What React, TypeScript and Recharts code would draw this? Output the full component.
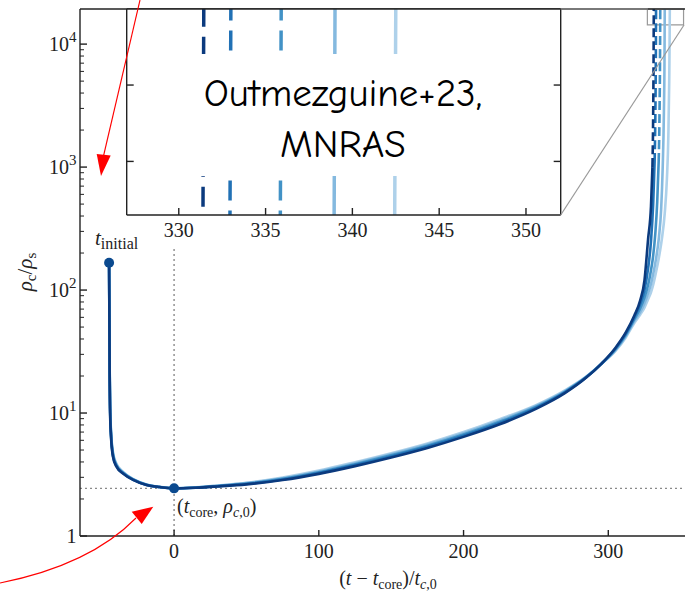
import React from 'react';
import { LineChart, Line, XAxis, YAxis, ReferenceLine, ReferenceDot, ReferenceArea } from 'recharts';

// time since core formation, in units of t_c,0 (shared by all runs up to t = 312)
const tShared = [
  -44.9, -44.7, -44.5, -44.2, -43.6, -42.2, -40, -35, -28, -19, -10, 0,
  15, 30, 50, 75, 100, 125, 150, 175, 200, 225, 250, 270, 285, 295, 305, 312,
];

// central density rho_c / rho_s for each run on tShared
const run1Rho = [167, 60, 20, 10, 6.5, 4.4, 3.7, 3.2, 2.85, 2.6, 2.5, 2.44,
  2.47, 2.53, 2.63, 2.85, 3.2, 3.7, 4.35, 5.2, 6.4, 8.1, 10.8, 14.5, 19.5, 25, 34, 45];
const run2Rho = [167, 62, 21, 10.5, 6.7, 4.5, 3.75, 3.22, 2.86, 2.6, 2.5, 2.44,
  2.47, 2.54, 2.65, 2.88, 3.25, 3.77, 4.44, 5.32, 6.55, 8.3, 11.0, 14.7, 19.6, 25, 33.5, 44];
const run3Rho = [167, 64, 22, 11, 6.9, 4.6, 3.8, 3.25, 2.87, 2.61, 2.5, 2.44,
  2.48, 2.55, 2.67, 2.92, 3.3, 3.84, 4.53, 5.43, 6.7, 8.5, 11.2, 14.9, 19.7, 25, 33, 43];
const run4Rho = [167, 66, 23, 11.5, 7.1, 4.7, 3.85, 3.27, 2.88, 2.61, 2.5, 2.44,
  2.48, 2.56, 2.69, 2.95, 3.35, 3.91, 4.62, 5.55, 6.85, 8.7, 11.4, 15.1, 19.8, 25, 32.5, 42];
const run5Rho = [167, 68, 24, 12, 7.3, 4.8, 3.9, 3.3, 2.89, 2.62, 2.51, 2.44,
  2.49, 2.57, 2.71, 2.99, 3.4, 3.98, 4.71, 5.66, 7.0, 8.9, 11.6, 15.3, 19.9, 25, 32, 41];

// late-time collapse of each run: [t, rho]
const run1Tail: [number, number][] = [[318, 62], [322, 82], [325, 120], [327.5, 260], [329.5, 480],
  [330.5, 1000], [331, 2600], [331.3, 8000], [331.44, 19300]];
const run2Tail: [number, number][] = [[318, 60], [322, 77], [325, 100], [327.5, 150], [329.5, 250],
  [331, 500], [332, 1100], [332.5, 2600], [332.85, 8000], [333.0, 19300]];
const run3Tail: [number, number][] = [[318, 58], [322, 71], [325, 87], [327.5, 110], [329.5, 145],
  [331, 190], [332.5, 290], [333.8, 520], [334.8, 1100], [335.4, 2800], [335.75, 8000], [335.9, 19300]];
const run4Tail: [number, number][] = [[318, 56], [322, 66], [325, 78], [327.5, 94], [329.5, 112],
  [331, 135], [333, 180], [335, 270], [336.5, 450], [337.6, 1000], [338.4, 2700], [338.85, 8000], [339.0, 19300]];
const run5Tail: [number, number][] = [[318, 54], [322, 63], [325, 72], [327.5, 84], [329.5, 96],
  [331, 110], [333, 140], [335, 185], [337, 260], [339, 420], [340.5, 800], [341.5, 1800],
  [342.1, 5000], [342.4, 12000], [342.5, 19300]];

const runColors = ['#0b3a7e', '#2171b5', '#4292c6', '#84b9df', '#aed1ea'];
const runDashed = [true, true, true, false, false];

const xTicks = [0, 100, 200, 300];
const yMajor = [1, 10, 100, 1000, 10000];
const yMinorMult = [2, 3, 4, 5, 6, 7, 8, 9];
const X_DOMAIN: [number, number] = [-65, 353];
const Y_DOMAIN: [number, number] = [1, 19300];

const insetXTicks = [330, 335, 340, 345, 350];
const insetYTicks = [15500, 17300];
const INSET_X: [number, number] = [327, 352];
const INSET_Y: [number, number] = [14350, 19300];

const DASH_FROM = 1000;
const FONT = "'Liberation Serif', 'Times New Roman', serif";
const INK = '#222';

type Pt = { t: number; rho: number };

function makeRun(rho: number[], tail: [number, number][]): Pt[] {
  const pts = tShared.map((t, i) => ({ t, rho: rho[i] }));
  tail.forEach(([t, r]) => pts.push({ t, rho: r }));
  return pts;
}

// solid part, and the dashed extrapolation above DASH_FROM
function split(pts: Pt[], dashed: boolean): [Pt[], Pt[]] {
  if (!dashed) return [pts, []];
  const k = pts.findIndex((p) => p.rho >= DASH_FROM);
  return [pts.slice(0, k + 1), pts.slice(k)];
}

const runs = [
  makeRun(run1Rho, run1Tail),
  makeRun(run2Rho, run2Tail),
  makeRun(run3Rho, run3Tail),
  makeRun(run4Rho, run4Tail),
  makeRun(run5Rho, run5Tail),
].map((pts, i) => {
  const [solid, dash] = split(pts, runDashed[i]);
  return { solid, dash, color: runColors[i], idx: i };
});

const yTicks = yMajor
  .flatMap((m) => [m, ...yMinorMult.map((k) => k * m)])
  .filter((v) => v <= Y_DOMAIN[1]);

const iCore = tShared.indexOf(0);
const tInit = tShared[0];
const rhoInit = run1Rho[0];
const rhoCore = run1Rho[iCore];

const YTick = (props: any) => {
  const { x, y, payload } = props;
  const v = payload.value;
  const e = Math.round(Math.log10(v));
  const major = Math.abs(v - Math.pow(10, e)) < 1e-6 * v;
  return (
    <g>
      <line x1={x} x2={x + (major ? 7 : 4)} y1={y} y2={y} stroke={INK} strokeWidth={major ? 1.4 : 1} />
      {major && (
        <text x={x - 3.5} y={y + 7} textAnchor="end" fontFamily={FONT} fontSize={20} fill={INK}>
          {e === 0 ? '1' : (
            <>
              10<tspan dy={-9} fontSize={15}>{e}</tspan>
            </>
          )}
        </text>
      )}
    </g>
  );
};

const XTick = (props: any) => {
  const { x, y, payload } = props;
  return (
    <g>
      <line x1={x} x2={x} y1={y} y2={y - 6} stroke={INK} strokeWidth={1.4} />
      <text x={x} y={y + 22} textAnchor="middle" fontFamily={FONT} fontSize={20} fill={INK}>
        {payload.value}
      </text>
    </g>
  );
};

const InsetXTick = (props: any) => {
  const { x, y, payload } = props;
  return (
    <g>
      <line x1={x} x2={x} y1={y} y2={y - 7} stroke={INK} strokeWidth={1.4} />
      <text x={x} y={y + 21.5} textAnchor="middle" fontFamily={FONT} fontSize={20} fill={INK}>
        {payload.value}
      </text>
    </g>
  );
};

const InsetLTick = (props: any) => (
  <line x1={props.x} x2={props.x + 7} y1={props.y} y2={props.y} stroke={INK} strokeWidth={1.4} />
);
const InsetRTick = (props: any) => (
  <line x1={props.x} x2={props.x - 7} y1={props.y} y2={props.y} stroke={INK} strokeWidth={1.4} />
);

const axisLine = { stroke: INK, strokeWidth: 1.4 };
const drawOrder = [...runs].reverse();

export default function App() {
  return (
    <div style={{ position: 'absolute', left: 0, top: 0, width: 685, height: 595, background: '#fff', overflow: 'hidden' }}>
      {/* main panel */}
      <div style={{ position: 'absolute', left: 0, top: 0 }}>
        <LineChart width={685} height={595} margin={{ top: 8, right: 0, bottom: 0, left: 0 }}>
          <XAxis dataKey="t" type="number" domain={X_DOMAIN} allowDataOverflow ticks={xTicks} interval={0}
            height={59} tickSize={0} tickMargin={0} tick={XTick} axisLine={axisLine} />
          <XAxis xAxisId="top" orientation="top" type="number" domain={X_DOMAIN} height={1}
            tick={false} tickLine={false} axisLine={axisLine} />
          <YAxis dataKey="rho" type="number" scale="log" domain={Y_DOMAIN} allowDataOverflow ticks={yTicks}
            interval={0} width={80} tickSize={0} tickMargin={0} tick={YTick} axisLine={axisLine} />
          <ReferenceLine y={rhoCore} stroke="#8a8a8a" strokeWidth={1.4} strokeDasharray="2 3" />
          <ReferenceLine segment={[{ x: 0, y: 1 }, { x: 0, y: 220 }]} stroke="#8a8a8a" strokeWidth={1.4} strokeDasharray="2 3" />
          <ReferenceArea x1={INSET_X[0]} x2={INSET_X[1]} y1={INSET_Y[0]} y2={INSET_Y[1]}
            fill="none" stroke="#999" strokeWidth={1.2} ifOverflow="visible" />
          {drawOrder.map((r) => (
            <Line key={`s${r.idx}`} data={r.solid} dataKey="rho" type="monotone" stroke={r.color}
              strokeWidth={2.6} dot={false} isAnimationActive={false} />
          ))}
          {drawOrder.filter((r) => r.dash.length > 0).map((r) => (
            <Line key={`d${r.idx}`} data={r.dash} dataKey="rho" type="monotone" stroke={r.color}
              strokeWidth={2.6} strokeDasharray="9 4" dot={false} isAnimationActive={false} />
          ))}
          <ReferenceDot x={tInit} y={rhoInit} r={5} fill="#0b4a8f" stroke="none" />
          <ReferenceDot x={0} y={rhoCore} r={5} fill="#0b4a8f" stroke="none" />
        </LineChart>
      </div>

      {/* zoom inset on the collapse times */}
      <div style={{ position: 'absolute', left: 126.7, top: 9, width: 434, height: 206, background: '#fff' }} />
      <div style={{ position: 'absolute', left: 120, top: 0 }}>
        <LineChart width={450} height={245} margin={{ top: 8, right: 8.3, bottom: 0, left: 5.7 }}>
          <XAxis dataKey="t" type="number" domain={INSET_X} allowDataOverflow ticks={insetXTicks} interval={0}
            height={30} tickSize={0} tickMargin={0} tick={InsetXTick} axisLine={axisLine} />
          <XAxis xAxisId="top" orientation="top" type="number" domain={INSET_X} height={1}
            tick={false} tickLine={false} axisLine={axisLine} />
          <YAxis yAxisId="l" dataKey="rho" type="number" scale="log" domain={INSET_Y} allowDataOverflow
            ticks={insetYTicks} interval={0} width={1} tickSize={0} tickMargin={0} tick={InsetLTick} axisLine={axisLine} />
          <YAxis yAxisId="r" orientation="right" type="number" scale="log" domain={INSET_Y} allowDataOverflow
            ticks={insetYTicks} interval={0} width={1} tickSize={0} tickMargin={0} tick={InsetRTick} axisLine={axisLine} />
          {drawOrder.map((r) => (
            <Line key={`is${r.idx}`} yAxisId="l" data={r.dash.length ? r.dash : r.solid} dataKey="rho" type="linear"
              stroke={r.color} strokeWidth={3.5} strokeDasharray={r.dash.length ? '20 10' : undefined}
              dot={false} isAnimationActive={false} />
          ))}
        </LineChart>
      </div>

      {/* labels, annotations */}
      <svg width={685} height={595} style={{ position: 'absolute', left: 0, top: 0, pointerEvents: 'none' }}>
        <line x1={560.7} y1={9} x2={648} y2={9} stroke="#999" strokeWidth={1.2} />
        <line x1={560.7} y1={215} x2={684} y2={25} stroke="#999" strokeWidth={1.2} />

        <rect x={134} y={54} width={419} height={122} fill="#fff" />
        <g fontFamily="'Comic Sans MS', 'Comic Neue', 'Open Sans', sans-serif" fontSize={39} fill="#000" textAnchor="middle">
          <text x={343} y={106}>Outmezguine+23,</text>
          <text x={343} y={157}>MNRAS</text>
        </g>

        <g fontFamily={FONT} fill={INK}>
          <text x={95} y={245} fontSize={21}>
            <tspan fontStyle="italic">t</tspan>
            <tspan fontSize={16} dy={4}>initial</tspan>
          </text>
          <text x={177} y={513} fontSize={20}>
            (<tspan fontStyle="italic">t</tspan>
            <tspan fontSize={14} dy={4}>core</tspan>
            <tspan dy={-4}>, </tspan>
            <tspan fontStyle="italic">ρ</tspan>
            <tspan fontSize={14} dy={4}><tspan fontStyle="italic">c</tspan>,0</tspan>
            <tspan dy={-4}>)</tspan>
          </text>
          <text x={388} y={585} fontSize={20} textAnchor="middle">
            (<tspan fontStyle="italic">t</tspan> − <tspan fontStyle="italic">t</tspan>
            <tspan fontSize={14} dy={4}>core</tspan>
            <tspan dy={-4}>)/</tspan>
            <tspan fontStyle="italic">t</tspan>
            <tspan fontSize={14} dy={4}><tspan fontStyle="italic">c</tspan>,0</tspan>
          </text>
          <text transform="translate(32,272) rotate(-90)" fontSize={21} textAnchor="middle">
            <tspan fontStyle="italic">ρ</tspan>
            <tspan fontSize={15} dy={4}>c</tspan>
            <tspan dy={-4}>/</tspan>
            <tspan fontStyle="italic">ρ</tspan>
            <tspan fontSize={15} dy={4}>s</tspan>
          </text>
        </g>

        <g stroke="red" fill="red">
          <line x1={140} y1={0} x2={103.5} y2={156} strokeWidth={1.1} />
          <polygon points="96.7,154 110.7,155.5 101,176" stroke="none" />
          <path d="M 0 583 Q 90 565 136 518" fill="none" strokeWidth={1.1} />
          <polygon points="131.7,511.7 153.3,506.7 141.7,524" stroke="none" />
        </g>
      </svg>
    </div>
  );
}
